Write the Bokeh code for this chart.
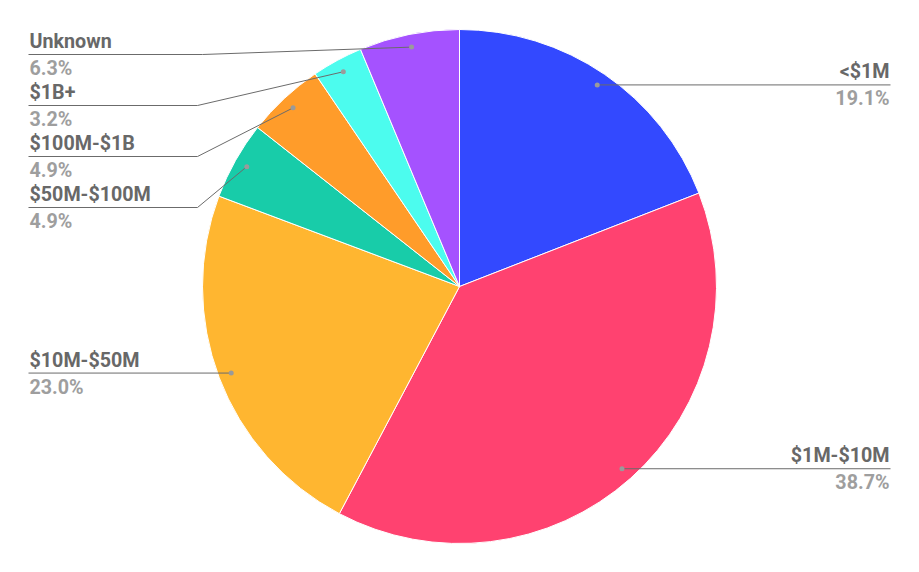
import math
from bokeh.plotting import figure
from bokeh.models import Range1d, ColumnDataSource
from bokeh.core.properties import value
from bokeh.embed import file_html
from bokeh.resources import INLINE

# ---- data ----
categories = ["<$1M", "$1M-$10M", "$10M-$50M", "$50M-$100M", "$100M-$1B", "$1B+", "Unknown"]
shares = [19.1, 38.7, 23.0, 4.9, 4.9, 3.2, 6.3]
pct_labels = ["19.1%", "38.7%", "23.0%", "4.9%", "4.9%", "3.2%", "6.3%"]
colors = ["#3349ff", "#ff4270", "#ffb630", "#18cca9", "#ff9c2a", "#4cfcee", "#a552ff"]

# ---- layout (screen-pixel styling, not data) ----
W, H = 919, 572
CX, CY, R = 459, 286, 257
DOT_R = 0.95
label_side = ["right", "right", "left", "left", "left", "left", "left"]
# stacked label line y (screen px) for small slices; None -> use dot y
label_line_y = [None, None, None, 207, 156, 105, 54]
bend_x = [None, None, None, 197, 197, 197, 202]
LEFT_X, RIGHT_X = 28, 890
FS = "19.7px"

def sy(y):
    return H - y

total = sum(shares)
starts, ends, mids = [], [], []
cum = 0.0
for s in shares:
    f0 = cum / total
    cum += s
    f1 = cum / total
    # clockwise from 12 o'clock
    starts.append(math.pi / 2 - 2 * math.pi * f1)
    ends.append(math.pi / 2 - 2 * math.pi * f0)
    mids.append(math.pi / 2 - 2 * math.pi * (f0 + f1) / 2)

p = figure(width=903, height=556, x_range=Range1d(0, 903), y_range=Range1d(16, 572),
           output_backend="svg", toolbar_location=None, x_axis_type=None, y_axis_type=None,
           min_border=0, outline_line_color=None)
p.grid.visible = False
p.background_fill_color = "white"

src = ColumnDataSource(dict(start=starts, end=ends, color=colors))
p.wedge(x=CX, y=sy(CY), radius=R, start_angle="start", end_angle="end", direction="anticlock",
        fill_color="color", line_color="white", line_width=1, source=src)

dot_x, dot_y = [], []
for i, cat in enumerate(categories):
    dx = CX + DOT_R * R * math.cos(mids[i])
    dy = sy(CY) + DOT_R * R * math.sin(mids[i])
    dot_x.append(dx)
    dot_y.append(dy)
    if label_line_y[i] is None:
        ly = dy
        end_x = RIGHT_X if label_side[i] == "right" else LEFT_X
        xs, ys = [dx, end_x], [dy, dy]
    else:
        ly = sy(label_line_y[i])
        xs, ys = [dx, bend_x[i], LEFT_X], [dy, ly, ly]
    p.line(xs, ys, line_color="#6b6b6b", line_width=1)
    if label_side[i] == "right":
        tx, align = 889, "right"
    else:
        tx, align = 29, "left"
    p.text(x=[tx], y=[ly + 13], text=[cat], text_font=value("Roboto"), text_font_style="bold",
           text_font_size=FS, text_color="#686868", text_align=align, text_baseline="alphabetic")
    p.text(x=[tx], y=[ly - 14], text=[pct_labels[i]], text_font=value("Roboto"), text_font_style="bold",
           text_font_size=FS, text_color="#9e9e9e", text_align=align, text_baseline="alphabetic")

p.scatter(dot_x, dot_y, size=5, fill_color="#9a9a9a", line_color=None)

open("out.html", "w").write(file_html(p, INLINE))
